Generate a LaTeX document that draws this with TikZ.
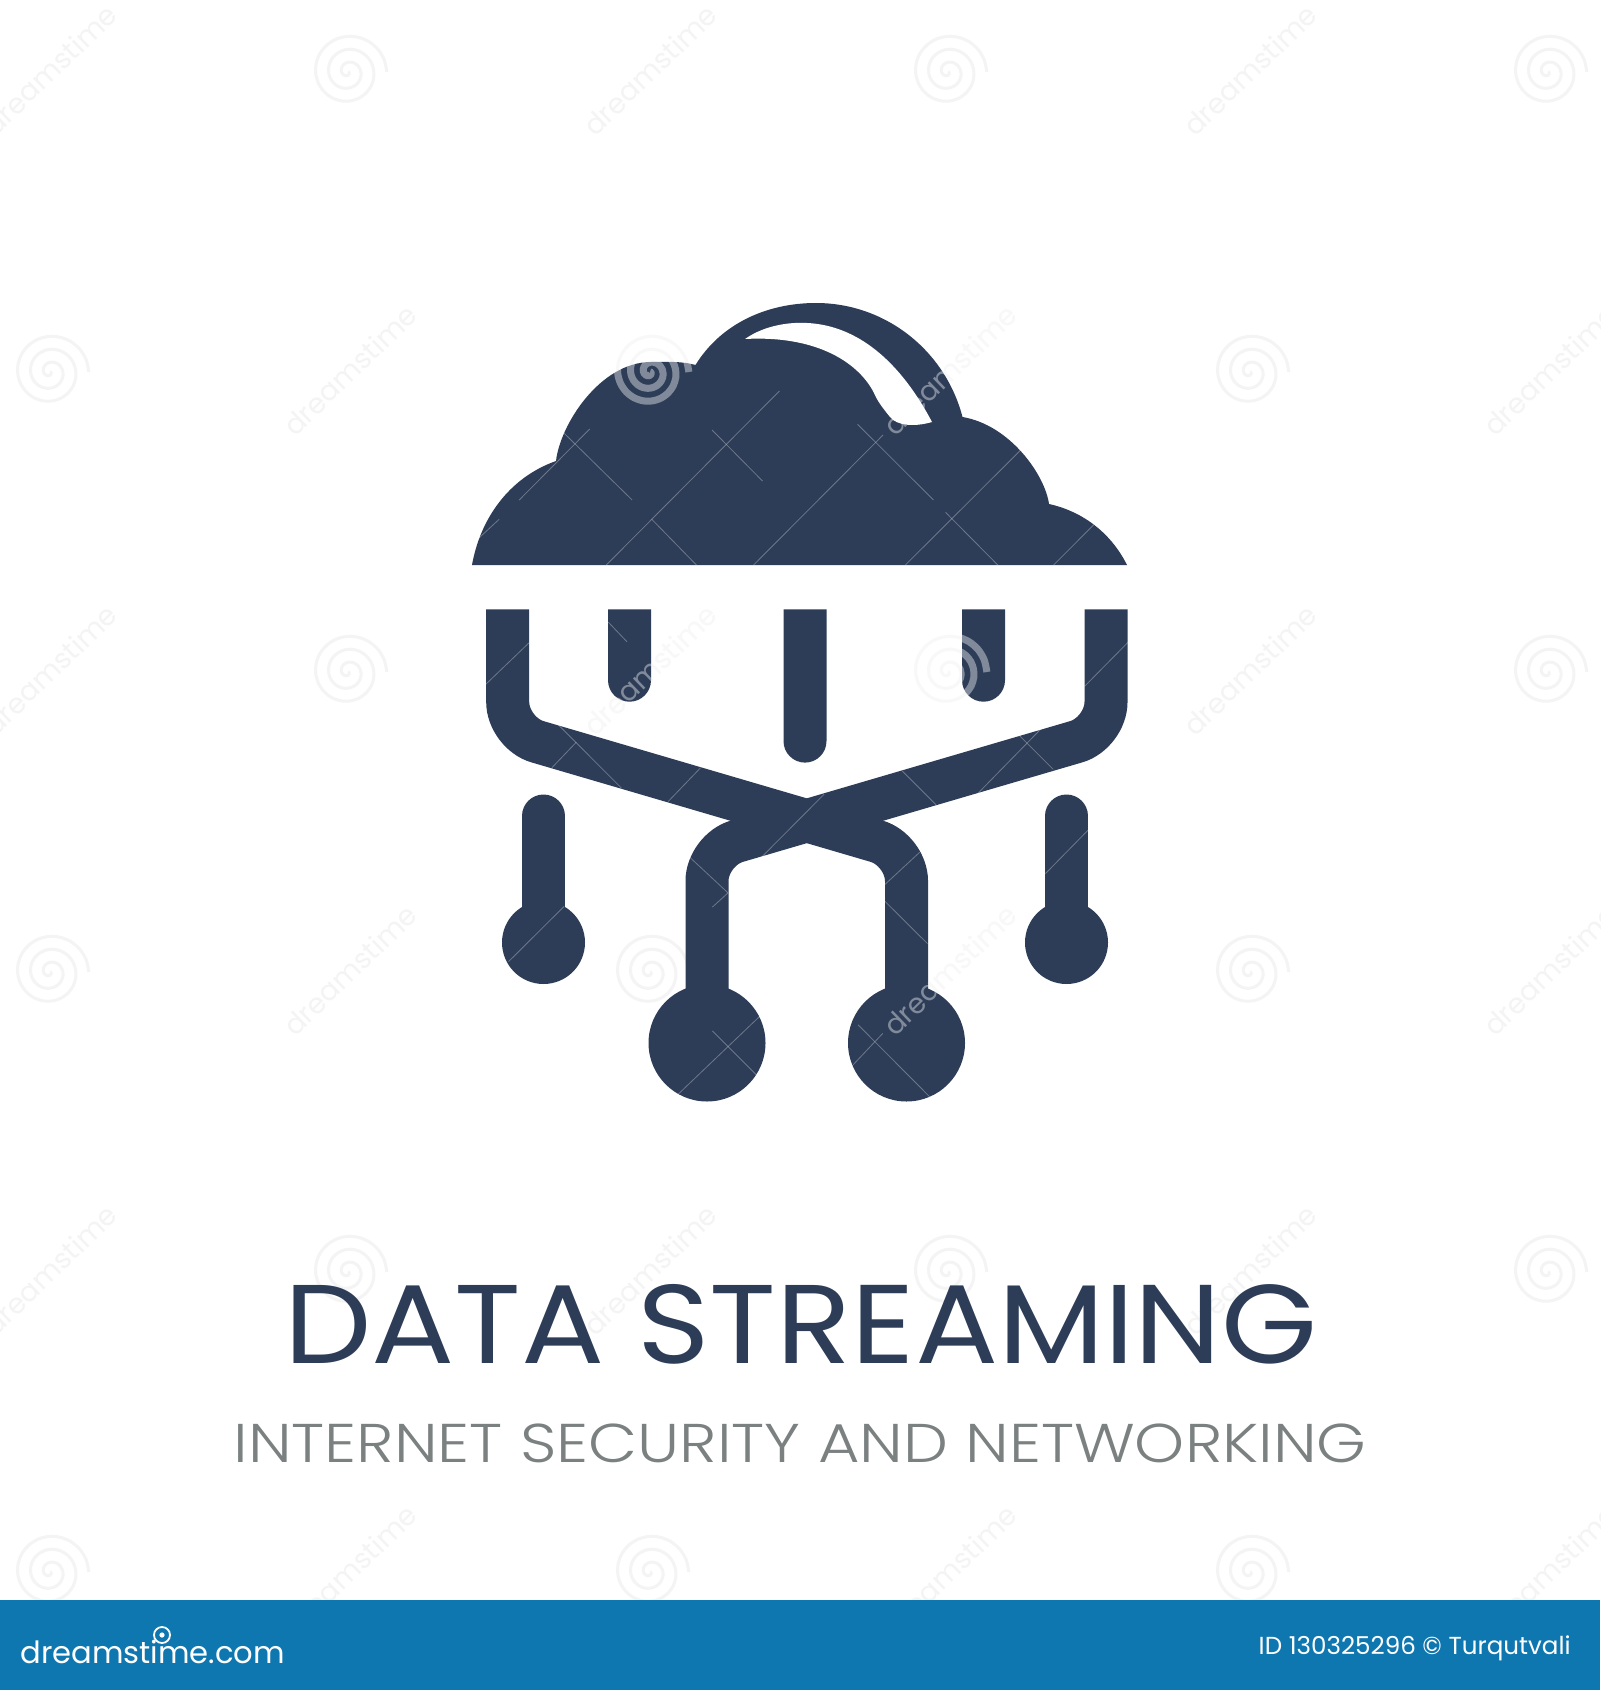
\documentclass[tikz,border=0pt]{standalone}
\usepackage{fontspec}
\usepackage{tikz}
\usetikzlibrary{positioning, calc}
\setmainfont{Poppins}
\newfontfamily\titleface{Poppins}[FakeStretch=1.102]
\newfontfamily\subface{Poppins Light}[FakeStretch=1.165]
\definecolor{navy}{HTML}{2E3D57}
\definecolor{banner}{HTML}{0F77B0}
\definecolor{slate}{HTML}{7B8080}
\definecolor{faint}{HTML}{F4F4F4}
\tikzset{
    stroke/.style={draw=navy, line width=21.5pt, line cap=butt},
    stub/.style={draw=navy, line width=21.5pt, line cap=round},
    bigdot/.style={circle, fill=navy, minimum size=58.5pt, inner sep=0pt},
    smalldot/.style={circle, fill=navy, minimum size=41.5pt, inner sep=0pt},
    title/.style={text=navy, font=\titleface\fontsize{56pt}{60pt}\selectfont, inner sep=0pt, anchor=base},
    subtitle/.style={text=slate, font=\subface\fontsize{27.3pt}{30pt}\selectfont, inner sep=0pt, anchor=base},
    bannertext/.style={text=white, inner sep=0pt},
    wmword/.style={rotate=44, inner sep=0pt, font=\fontsize{14pt}{16pt}\selectfont},
    wmfaint/.style={draw=faint, line width=1.5pt},
    wmlight/.style={draw=white, draw opacity=0.4, line width=3.5pt},
    wmthin/.style={draw=white, draw opacity=0.3, line width=0.4pt}
}
% One watermark spiral
\newcommand{\wmswirl}[3]{%
  \draw[#1] plot[smooth, variable=\t, domain=0:1080, samples=60]
    ({#2+0.036*\t*cos(\t)},{#3+0.036*\t*sin(\t)});}
\begin{document}
\begin{tikzpicture}[x=0.5pt, y=-0.5pt]
\useasboundingbox (0,0) rectangle (1600,1690);
\fill[white] (0,0) rectangle (1600,1690);

% Watermark on the white ground
\foreach \sx/\sy in {348/72,948/72,1548/72,50/372,650/372,1250/372,348/672,948/672,1548/672,
                     50/972,650/972,1250/972,348/1272,948/1272,1548/1272,50/1572,650/1572,1250/1572}
  {\wmswirl{wmfaint}{\sx}{\sy}}
\foreach \sx/\sy in {50/70,650/70,1250/70,350/370,950/370,1550/370,50/670,650/670,1250/670,
                     350/970,950/970,1550/970,50/1270,650/1270,1250/1270,350/1570,950/1570,1550/1570}
  {\node[wmword, text=faint] (wa-\sx-\sy) at (\sx,\sy) {dreamstime};}

% Cloud
\fill[navy] (472,565)
    .. controls (480,520) and (508,478) .. (556,461)
    .. controls (560,425) and (600,362) .. (651,362)
    .. controls (667,362) and (682,361) .. (695.5,365)
    .. controls (720,325) and (765,303) .. (816,303)
    .. controls (885,303) and (945,350) .. (962.5,417)
    .. controls (1010,425) and (1045,475) .. (1049,504)
    .. controls (1085,512) and (1112,535) .. (1127,565) -- cycle;
% Highlight on the cloud
\fill[white] (745,339)
    .. controls (765,325) and (790,322) .. (807,323)
    .. controls (850,325) and (895,352) .. (932,422)
    .. controls (915,427) and (897,426) .. (890,417)
    .. controls (882,407) and (878,402) .. (874,393)
    .. controls (860,365) and (820,335) .. (745,339) -- cycle;

% Top drops
\foreach \px/\py in {629.5/680.2, 805/741.1, 983.5/680.2}
  \fill[navy] (\px-21.5,609.3) -- (\px-21.5,\py)
    arc[start angle=180, end angle=360, radius=10.75pt] -- (\px+21.5,609.3) -- cycle;

% Dots
\node[bigdot] (d1) at (707,1043) {};
\node[bigdot] (d2) at (906.5,1043) {};
\node[smalldot] (d3) at (543.5,942.5) {};
\node[smalldot] (d4) at (1066.5,942.5) {};

% Crossing lines
\coordinate (l1) at (507.7,609.3);
\coordinate (l2) at (507.7,733);
\coordinate (l3) at (906.5,850);
\coordinate (r1) at (1106,609.3);
\coordinate (r2) at (1106,733);
\coordinate (r3) at (707,850);
\draw[stroke, rounded corners=15.5pt] (l1) -- (l2) -- (l3) -- (d2.center);
\draw[stroke, rounded corners=15.5pt] (r1) -- (r2) -- (r3) -- (d1.center);

% Side stems
\coordinate (t3) at (543.5,816);
\coordinate (t4) at (1066.5,816);
\draw[stub] (t3) -- (d3.center);
\draw[stub] (t4) -- (d4.center);

% Watermark showing through the dark shapes
\wmswirl{wmlight}{650}{372}
\wmswirl{wmlight}{948}{672}
\foreach \sx/\sy in {950/370, 650/670, 950/970}
  {\node[wmword, text=white, text opacity=0.4] (wb-\sx-\sy) at (\sx,\sy) {dreamstime};}
\foreach \ax/\ay/\bx/\by in {155/660/313/447, 350/855/738/333, 680/855/970/465, 1020/855/1280/508,
    1352/855/1443/733, 60/780/110/718, 252/455/408/660, 587/450/700/603, 452/718/552/855,
    913/433/1083/660, 1110/697/1227/855}
  \draw[wmthin] ({\ax/2.24+450},{\ay/3+280}) -- ({\bx/2.24+450},{\by/3+280});
\foreach \ax/\ay/\bx/\by in {60/278/160/155, 342/95/385/153, 212/525/268/450, 228/400/372/585,
    480/625/555/525, 1020/535/1098/635, 1195/600/1340/410, 1290/430/1368/530, 1440/285/1540/155,
    695/790/840/603, 530/790/618/895, 582/937/618/895, 980/870/1060/775, 980/920/1078/1045,
    1350/838/1448/710, 112/1098/240/935, 503/1490/695/1255, 582/1303/685/1435, 905/1405/975/1310,
    918/1285/1085/1500}
  \draw[wmthin] ({\ax/2.306+460},{\ay/2.955+590}) -- ({\bx/2.306+460},{\by/2.955+590});

% Texts
\node[title] (name) at (801,1363) {DATA STREAMING};
\node[subtitle] (group) at (800,1462) {INTERNET SECURITY AND NETWORKING};

% Banner
\fill[banner] (0,1600) rectangle (1600,1690);
\node[bannertext, anchor=base west, font=\fontsize{15.3pt}{17pt}\selectfont] (site) at (20,1663) {dreamstime.com};
\coordinate (spiral) at (162,1635);
\draw[white, line width=0.9pt] (spiral) circle (4pt);
\fill[white] (spiral) circle (1.3pt);
\node[bannertext, anchor=base east, font=\fontsize{12.3pt}{14pt}\selectfont] (id) at (1571,1654) {ID 130325296 © Turqutvali};
\end{tikzpicture}
\end{document}
